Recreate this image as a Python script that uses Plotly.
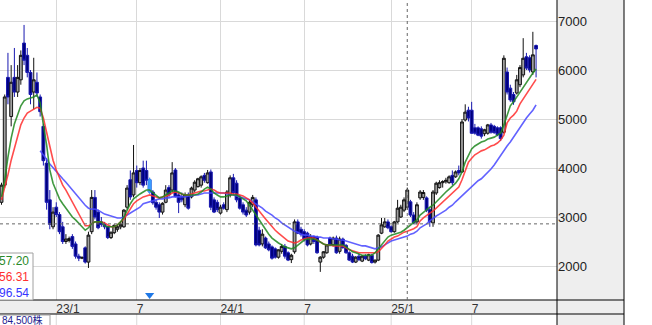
import plotly.graph_objects as go

# ---------------- data (weekly candles, index = week number) ----------------
opens = [3300, 3650, 5850, 5050, 5850, 5550, 5800, 6550, 6300, 5950,
         5550, 5750, 5450, 4850, 4100, 3350, 2800, 3200, 3050, 2800,
         2500, 2520, 2600, 2450, 2200, 2160, 2370, 2080, 2700, 3400,
         3100, 2900, 2850, 2800, 2580, 2680, 2750, 2800, 2800, 3200,
         3760, 3450, 3950, 3700, 4000, 3950, 3760, 3510, 3300, 3250,
         3100, 3300, 3600, 3550, 3960, 3450, 3420, 3250, 3450, 3410,
         3550, 3620, 3650, 3850, 3700, 3920, 3350, 3300, 3080, 3250,
         3150, 3450, 3800, 3690, 3390, 3250, 3140, 3100, 3250, 3350,
         2730, 2450, 2570, 2450, 2390, 2350, 2180, 2300, 2400, 2270,
         2130, 2290, 2900, 2750, 2700, 2670, 2450, 2600, 2590, 2080,
         2180, 2270, 2570, 2430, 2570, 2300, 2550, 2420, 2270, 2200,
         2080, 2200, 2100, 2200, 2120, 2220, 2080, 2120, 2670, 2800,
         2900, 2800, 2700, 2900, 3000, 3140, 3200, 3310, 3040, 2900,
         3390, 3400, 3390, 3150, 2880, 3490, 3600, 3700, 3720, 3700,
         3850, 3820, 3950, 3920, 4980, 5180, 5180, 4820, 4820, 4800,
         4700, 4710, 4880, 4850, 4820, 4820, 4730, 5960, 5630, 5500,
         5530, 5700, 5900, 6270, 6250, 5960, 6500]
highs = [3700, 5500, 6350, 6100, 6450, 6100, 6400, 6920, 6450, 6000,
         6250, 5950, 5500, 4900, 4200, 3550, 3200, 3300, 3100, 2900,
         2650, 2600, 2650, 2500, 2250, 2200, 2400, 2700, 3550, 3550,
         3150, 3000, 2900, 2820, 2700, 2850, 2850, 2900, 3160, 3650,
         3950, 4470, 4050, 4000, 4150, 4150, 3800, 3550, 3350, 3300,
         3300, 3650, 3650, 4120, 4000, 3500, 3500, 3500, 3500, 3620,
         3750, 3800, 3850, 3900, 3960, 3970, 3400, 3350, 3250, 3300,
         3550, 3850, 3880, 3750, 3450, 3300, 3200, 3350, 3450, 3400,
         2800, 2750, 2600, 2500, 2420, 2380, 2340, 2450, 2450, 2300,
         2250, 2950, 2950, 2800, 2750, 2700, 2650, 2620, 2620, 2200,
         2300, 2450, 2600, 2600, 2620, 2600, 2580, 2450, 2300, 2250,
         2200, 2250, 2220, 2240, 2250, 2250, 2130, 2650, 2980, 2980,
         2950, 2830, 2920, 3350, 3250, 3400, 3600, 3350, 3100, 3300,
         3550, 3550, 3420, 3200, 3550, 3720, 3750, 3750, 3800, 3850,
         3950, 3950, 4050, 5000, 5300, 5250, 5350, 4900, 4850, 4850,
         4800, 4900, 4920, 4880, 4850, 4850, 6300, 6050, 5700, 5550,
         5900, 6100, 6650, 6350, 6300, 6780, 6520]
lows = [3250, 3600, 5300, 4850, 5450, 5450, 5700, 6100, 5850, 5300,
        5200, 5450, 5050, 4050, 3150, 2750, 2750, 3000, 2650, 2450,
        2450, 2480, 2350, 2150, 2100, 2140, 2050, 1960, 2650, 2950,
        2750, 2800, 2750, 2550, 2550, 2650, 2700, 2750, 2780, 3150,
        3350, 3400, 3600, 3650, 3600, 3650, 3480, 3250, 3150, 2980,
        3050, 3280, 3400, 3500, 3400, 3080, 3300, 3200, 3150, 3380,
        3500, 3600, 3600, 3700, 3680, 3140, 3080, 3100, 3050, 3150,
        3100, 3400, 3450, 3300, 3150, 3050, 3000, 3050, 3200, 2400,
        2400, 2400, 2350, 2300, 2130, 2150, 2150, 2250, 2150, 2100,
        2060, 2250, 2650, 2600, 2500, 2400, 2420, 2450, 2250, 1880,
        2150, 2250, 2400, 2400, 2250, 2250, 2350, 2250, 2100, 2060,
        2060, 2100, 2080, 2120, 2100, 2050, 2050, 2100, 2650, 2780,
        2750, 2680, 2680, 2880, 2980, 3100, 3150, 3000, 2850, 2850,
        3350, 3350, 3100, 2800, 2800, 3450, 3580, 3600, 3680, 3680,
        3650, 3800, 3850, 3900, 4950, 4950, 4700, 4680, 4650, 4600,
        4650, 4680, 4700, 4700, 4650, 4550, 4700, 5500, 5350, 5290,
        5500, 5650, 5850, 6000, 5950, 5900, 5850]
closes = [3650, 5450, 5450, 5750, 5550, 5850, 6300, 6200, 5950, 5500,
          5800, 5530, 5150, 4150, 3300, 2850, 3100, 3050, 2700, 2500,
          2550, 2560, 2400, 2200, 2160, 2170, 2080, 2630, 3400, 3000,
          2780, 2850, 2800, 2580, 2690, 2830, 2800, 2850, 3140, 3590,
          3410, 3900, 3700, 3950, 3650, 3750, 3510, 3290, 3200, 3100,
          3280, 3550, 3450, 3900, 3420, 3300, 3350, 3450, 3180, 3590,
          3710, 3780, 3820, 3750, 3900, 3200, 3100, 3150, 3200, 3180,
          3510, 3800, 3500, 3350, 3180, 3100, 3040, 3300, 3400, 2430,
          2430, 2650, 2370, 2330, 2160, 2180, 2330, 2400, 2200, 2120,
          2220, 2900, 2670, 2650, 2550, 2430, 2600, 2500, 2270, 2180,
          2290, 2430, 2430, 2570, 2270, 2550, 2380, 2270, 2120, 2080,
          2180, 2130, 2200, 2150, 2230, 2070, 2120, 2630, 2840, 2900,
          2780, 2700, 2900, 3180, 3200, 3350, 3550, 3040, 2880, 3250,
          3510, 3500, 3140, 2900, 3510, 3690, 3700, 3720, 3750, 3820,
          3700, 3920, 3900, 4940, 5140, 5020, 4710, 4710, 4670, 4650,
          4780, 4880, 4730, 4720, 4680, 4600, 6240, 5550, 5390, 5350,
          5800, 6050, 6240, 6040, 6000, 6310, 6430]

# moving averages (short / middle / long)
ma_short = [3410, 3760, 4220, 4610, 4900, 5100, 5270, 5370, 5410, 5430,
            5450, 5490, 5330, 4880, 4470, 3960, 3690, 3530, 3370, 3270,
            3180, 3100, 3000, 2940, 2860, 2800, 2730, 2780, 2860, 2900,
            2900, 2900, 2820, 2800, 2800, 2800, 2840, 2900, 3000, 3140,
            3270, 3370, 3430, 3470, 3510, 3550, 3550, 3490, 3430, 3390,
            3410, 3450, 3490, 3530, 3530, 3510, 3470, 3450, 3450, 3450,
            3450, 3470, 3510, 3570, 3610, 3570, 3490, 3450, 3410, 3410,
            3430, 3450, 3450, 3450, 3410, 3370, 3330, 3240, 3140, 3040,
            2940, 2840, 2730, 2650, 2570, 2510, 2470, 2430, 2390, 2370,
            2350, 2370, 2430, 2490, 2530, 2550, 2550, 2550, 2530, 2490,
            2450, 2430, 2430, 2430, 2430, 2430, 2430, 2390, 2330, 2290,
            2270, 2240, 2220, 2220, 2220, 2220, 2270, 2350, 2450, 2530,
            2590, 2630, 2650, 2670, 2690, 2730, 2780, 2840, 2880, 2940,
            3040, 3100, 3140, 3200, 3240, 3310, 3390, 3450, 3510, 3570,
            3630, 3690, 3780, 3920, 4120, 4270, 4390, 4450, 4490, 4530,
            4550, 4590, 4610, 4630, 4670, 4710, 4880, 5100, 5270, 5350,
            5450, 5550, 5650, 5730, 5840, 5940, 6020]
ma_mid = [3350, 3590, 3860, 4160, 4410, 4650, 4880, 5020, 5120, 5160,
          5200, 5240, 5220, 5020, 4730, 4430, 4160, 3960, 3800, 3650,
          3550, 3430, 3290, 3160, 3040, 2920, 2820, 2820, 2860, 2900,
          2900, 2900, 2880, 2840, 2800, 2800, 2840, 2900, 2960, 3060,
          3180, 3270, 3330, 3370, 3410, 3430, 3450, 3430, 3410, 3390,
          3410, 3430, 3450, 3490, 3510, 3490, 3470, 3450, 3450, 3470,
          3490, 3510, 3530, 3530, 3550, 3570, 3550, 3510, 3490, 3490,
          3490, 3490, 3470, 3470, 3450, 3430, 3390, 3350, 3290, 3200,
          3120, 3040, 2960, 2880, 2800, 2730, 2670, 2610, 2550, 2510,
          2490, 2470, 2490, 2530, 2550, 2570, 2570, 2570, 2530, 2490,
          2450, 2430, 2430, 2410, 2410, 2410, 2410, 2370, 2330, 2310,
          2290, 2270, 2270, 2270, 2270, 2270, 2270, 2290, 2350, 2430,
          2510, 2550, 2590, 2610, 2650, 2690, 2710, 2730, 2760, 2800,
          2920, 2980, 3040, 3080, 3120, 3180, 3240, 3290, 3350, 3410,
          3470, 3530, 3610, 3760, 3960, 4120, 4200, 4270, 4310, 4350,
          4370, 4410, 4450, 4470, 4510, 4570, 4670, 4920, 5020, 5080,
          5160, 5310, 5410, 5510, 5610, 5710, 5810]
ma_long = [None] * 12 + [
           4350, 4270, 4180, 4080, 4000, 3920, 3840, 3780,
           3710, 3630, 3570, 3490, 3410, 3330, 3240, 3180, 3160, 3160,
           3140, 3100, 3060, 3040, 3020, 3000, 2980, 2980, 3000, 3040,
           3080, 3120, 3160, 3200, 3270, 3290, 3310, 3330, 3350, 3370,
           3370, 3390, 3390, 3410, 3410, 3410, 3410, 3410, 3430, 3430,
           3450, 3450, 3470, 3490, 3490, 3490, 3490, 3490, 3490, 3490,
           3470, 3470, 3450, 3430, 3410, 3390, 3370, 3350, 3310, 3270,
           3220, 3180, 3120, 3080, 3040, 2980, 2940, 2880, 2840, 2800,
           2760, 2710, 2690, 2650, 2630, 2630, 2610, 2610, 2590, 2590,
           2570, 2570, 2570, 2550, 2550, 2530, 2530, 2510, 2490, 2470,
           2450, 2430, 2410, 2410, 2390, 2370, 2350, 2370, 2390, 2430,
           2470, 2510, 2530, 2550, 2570, 2590, 2610, 2650, 2670, 2710,
           2780, 2820, 2860, 2920, 2980, 3020, 3060, 3100, 3140, 3200,
           3240, 3310, 3370, 3430, 3490, 3570, 3630, 3670, 3740, 3780,
           3840, 3900, 3980, 4060, 4160, 4270, 4350, 4450, 4530, 4630,
           4730, 4840, 4920, 5020, 5100, 5180, 5290]

tick_weeks = [17, 42, 68, 94, 121, 146]
tick_labels = ["23/1", "7", "24/1", "7", "25/1", "7"]
price_ticks = [2000, 3000, 4000, 5000, 6000, 7000]
legend_values = ["57.20", "56.31", "96.54"]
volume_label = "84,500株"
marked_week = 46
cursor_week = 126
cursor_price = 2860

weeks = list(range(len(closes)))

# ---------------- figure ----------------
W, H = 652, 325
PX = 557 / W          # right edge of plot area (paper)
PR = 624 / W          # right edge of price panel
YB = 25 / H           # bottom of plot area (paper)
YS = 11 / H           # bottom of date strip
FONT = "Liberation Sans, Arial, Noto Sans CJK JP, sans-serif"

fig = go.Figure()

fig.add_trace(go.Candlestick(
    x=weeks, open=opens, high=highs, low=lows, close=closes,
    increasing=dict(line=dict(color="#111111", width=1), fillcolor="#a0a0a0"),
    decreasing=dict(line=dict(color="#1818b0", width=1), fillcolor="#00007c"),
    whiskerwidth=0, hoverinfo="skip", showlegend=False,
))
m = marked_week
fig.add_trace(go.Candlestick(
    x=[m], open=[opens[m]], high=[highs[m]], low=[lows[m]], close=[closes[m]],
    increasing=dict(line=dict(color="#3a9cff", width=1), fillcolor="#3a9cff"),
    decreasing=dict(line=dict(color="#3a9cff", width=1), fillcolor="#3a9cff"),
    whiskerwidth=0, hoverinfo="skip", showlegend=False,
))

for vals, col in [(ma_long, "rgba(70,70,255,0.85)"),
                  (ma_mid, "rgba(255,45,45,0.85)"),
                  (ma_short, "rgba(30,135,30,0.85)")]:
    fig.add_trace(go.Scatter(x=weeks, y=vals, mode="lines",
                             line=dict(color=col, width=1.6),
                             hoverinfo="skip", showlegend=False))

fig.add_trace(go.Scatter(x=[m], y=[1410], mode="markers",
                         marker=dict(symbol="triangle-down", size=8, color="#1f78e6"),
                         hoverinfo="skip", showlegend=False))

shapes = [
    # price panel and date strip backgrounds
    dict(type="rect", xref="paper", yref="paper", x0=PX, x1=PR, y0=0, y1=1,
         fillcolor="#eeeeee", line=dict(width=0), layer="below"),
    dict(type="rect", xref="paper", yref="paper", x0=0, x1=PR, y0=YS, y1=YB,
         fillcolor="#eeeeee", line=dict(width=0), layer="below"),
    # frame lines
    dict(type="line", xref="paper", yref="paper", x0=PX, x1=PX, y0=0, y1=1,
         line=dict(color="#000", width=1), layer="above"),
    dict(type="line", xref="paper", yref="paper", x0=PR, x1=PR, y0=0, y1=1,
         line=dict(color="#000", width=1), layer="above"),
    dict(type="line", xref="paper", yref="paper", x0=0, x1=PR, y0=YB, y1=YB,
         line=dict(color="#000", width=1), layer="above"),
    dict(type="line", xref="paper", yref="paper", x0=0, x1=PR, y0=YS, y1=YS,
         line=dict(color="#000", width=1), layer="above"),
    # cursor lines
    dict(type="line", xref="paper", yref="y", x0=0, x1=PX, y0=cursor_price, y1=cursor_price,
         line=dict(color="#666", width=1, dash="3px,3px"), layer="above"),
    dict(type="line", xref="x", yref="paper", x0=cursor_week, x1=cursor_week, y0=YB, y1=1,
         line=dict(color="#666", width=1, dash="3px,3px"), layer="above"),
    # legend box
    dict(type="rect", xref="paper", yref="paper", x0=-1 / W, x1=33 / W, y0=YB, y1=(H - 253) / H,
         fillcolor="white", line=dict(color="#a0a0a0", width=1), layer="above"),
    # volume box
    dict(type="rect", xref="paper", yref="paper", x0=-1 / W, x1=50 / W, y0=-5 / H, y1=(H - 315) / H,
         fillcolor="white", line=dict(color="#a0a0a0", width=1), layer="above"),
]
for t in tick_weeks:
    shapes.append(dict(type="line", xref="x", yref="paper", x0=t, x1=t, y0=0, y1=YS,
                       line=dict(color="#d9d9d9", width=1), layer="below"))

ann = []
for txt, col, yp in zip(legend_values, ["#2a8a2a", "#ff3030", "#3535ff"], [261, 277, 293]):
    ann.append(dict(xref="paper", yref="paper", x=31 / W, y=(H - yp) / H, text=txt,
                    showarrow=False, xanchor="right", yanchor="middle",
                    font=dict(family=FONT, size=12, color=col)))
ann.append(dict(xref="paper", yref="paper", x=1 / W, y=(H - 319.5) / H, text=volume_label,
                showarrow=False, xanchor="left", yanchor="middle", borderpad=0,
                font=dict(family=FONT, size=10, color="#1d1d90")))

fig.update_layout(
    width=W, height=H, margin=dict(l=0, r=0, t=0, b=0),
    paper_bgcolor="white", plot_bgcolor="white",
    showlegend=False, boxgap=0.12, boxgroupgap=0, hovermode=False,
    shapes=shapes, annotations=ann,
    xaxis=dict(domain=[0, PX], range=[-0.47, 172.5], tickvals=tick_weeks, ticktext=tick_labels,
               ticks="", showgrid=True, gridcolor="#d9d9d9", gridwidth=1, zeroline=False,
               showline=False, rangeslider=dict(visible=False), ticklabelposition="outside right",
               tickfont=dict(family=FONT, size=12, color="#333")),
    yaxis=dict(domain=[YB, 1], range=[1306, 7429], side="right", tickvals=price_ticks,
               ticks="", showgrid=True, gridcolor="#d9d9d9", gridwidth=1, zeroline=False,
               showline=False, tickfont=dict(family=FONT, size=13, color="#222")),
)

fig.write_html("out.html")
